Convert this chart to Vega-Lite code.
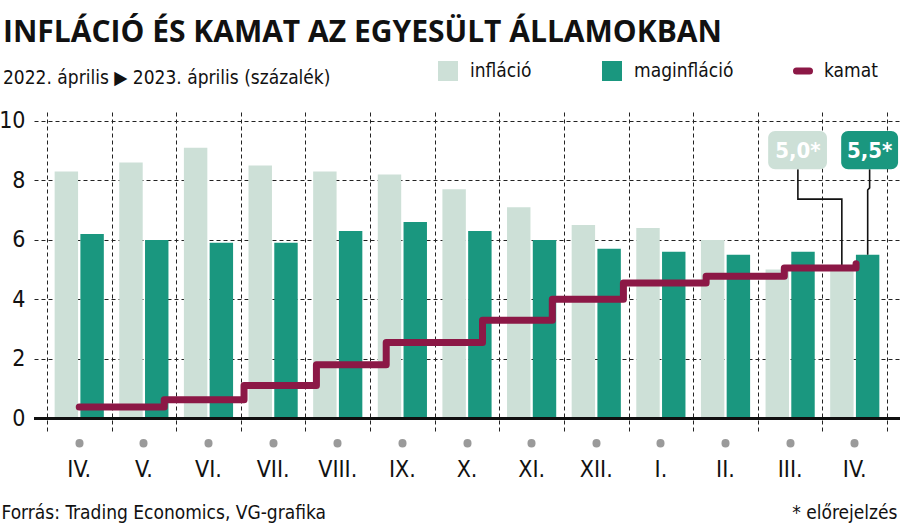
{
  "$schema": "https://vega.github.io/schema/vega-lite/v6.json",
  "width": 866,
  "height": 321,
  "autosize": {"type": "none"},
  "padding": {"left": 34, "top": 110, "right": 0, "bottom": 101},
  "background": "white",
  "config": {
    "view": {"stroke": null},
    "font": "Liberation Sans Narrow, DejaVu Sans Condensed, Roboto",
    "axis": {"labelFont": "Liberation Sans Narrow, DejaVu Sans Condensed, Roboto", "titleFont": "Liberation Sans Narrow, DejaVu Sans Condensed, Roboto"},
    "axisY": {
      "domain": false, "ticks": false, "labelPadding": 9,
      "labelFontSize": 23, "labelColor": "#111",
      "grid": true, "gridDash": [4, 3], "gridColor": "#222", "gridWidth": 1
    },
    "legend": {"labelFont": "Liberation Sans Narrow, DejaVu Sans Condensed, Roboto", "labelFontSize": 19, "labelColor": "#111"}
  },
  "title": {
    "text": "INFLÁCIÓ ÉS KAMAT AZ EGYESÜLT ÁLLAMOKBAN",
    "subtitle": "2022. április ▶ 2023. április (százalék)",
    "anchor": "start",
    "frame": "group",
    "dx": -31,
    "offset": -27,
    "font": "Open Sans",
    "fontWeight": "bold",
    "fontSize": 30,
    "color": "#111",
    "subtitleFont": "Liberation Sans Narrow, DejaVu Sans Condensed, Roboto",
    "subtitleFontSize": 19,
    "subtitleColor": "#111",
    "subtitlePadding": 21
  },
  "datasets": {
    "arak": [
      {"hónap": "2022. IV.", "sorozat": "infláció", "érték": 8.3},
      {"hónap": "2022. IV.", "sorozat": "maginfláció", "érték": 6.2},
      {"hónap": "2022. V.", "sorozat": "infláció", "érték": 8.6},
      {"hónap": "2022. V.", "sorozat": "maginfláció", "érték": 6.0},
      {"hónap": "2022. VI.", "sorozat": "infláció", "érték": 9.1},
      {"hónap": "2022. VI.", "sorozat": "maginfláció", "érték": 5.9},
      {"hónap": "2022. VII.", "sorozat": "infláció", "érték": 8.5},
      {"hónap": "2022. VII.", "sorozat": "maginfláció", "érték": 5.9},
      {"hónap": "2022. VIII.", "sorozat": "infláció", "érték": 8.3},
      {"hónap": "2022. VIII.", "sorozat": "maginfláció", "érték": 6.3},
      {"hónap": "2022. IX.", "sorozat": "infláció", "érték": 8.2},
      {"hónap": "2022. IX.", "sorozat": "maginfláció", "érték": 6.6},
      {"hónap": "2022. X.", "sorozat": "infláció", "érték": 7.7},
      {"hónap": "2022. X.", "sorozat": "maginfláció", "érték": 6.3},
      {"hónap": "2022. XI.", "sorozat": "infláció", "érték": 7.1},
      {"hónap": "2022. XI.", "sorozat": "maginfláció", "érték": 6.0},
      {"hónap": "2022. XII.", "sorozat": "infláció", "érték": 6.5},
      {"hónap": "2022. XII.", "sorozat": "maginfláció", "érték": 5.7},
      {"hónap": "2023. I.", "sorozat": "infláció", "érték": 6.4},
      {"hónap": "2023. I.", "sorozat": "maginfláció", "érték": 5.6},
      {"hónap": "2023. II.", "sorozat": "infláció", "érték": 6.0},
      {"hónap": "2023. II.", "sorozat": "maginfláció", "érték": 5.5},
      {"hónap": "2023. III.", "sorozat": "infláció", "érték": 5.0},
      {"hónap": "2023. III.", "sorozat": "maginfláció", "érték": 5.6},
      {"hónap": "2023. IV.", "sorozat": "infláció", "érték": 5.0},
      {"hónap": "2023. IV.", "sorozat": "maginfláció", "érték": 5.5}
    ],
    "kamat": [
      {"t": 0.5, "kamat": 0.38},
      {"t": 1.815, "kamat": 0.62},
      {"t": 3.05, "kamat": 1.1},
      {"t": 4.17, "kamat": 1.8},
      {"t": 5.25, "kamat": 2.55},
      {"t": 6.74, "kamat": 3.3},
      {"t": 7.82, "kamat": 4.0},
      {"t": 8.92, "kamat": 4.55},
      {"t": 10.2, "kamat": 4.78},
      {"t": 11.41, "kamat": 5.05},
      {"t": 12.52, "kamat": 5.2}
    ],
    "cimkek": [
      {"sorozat": "infláció", "szöveg": "5,0*", "t": 11.16, "t2": 12.07, "tk": 11.62, "felső": 9.66, "alsó": 8.38, "yk": 9.02},
      {"sorozat": "maginfláció", "szöveg": "5,5*", "t": 12.29, "t2": 13.17, "tk": 12.73, "felső": 9.66, "alsó": 8.38, "yk": 9.02}
    ],
    "vonalak": [
      {"id": "a", "sor": 1, "t": 11.62, "v": 8.38},
      {"id": "a", "sor": 2, "t": 11.62, "v": 7.37},
      {"id": "a", "sor": 3, "t": 12.3, "v": 7.37},
      {"id": "a", "sor": 4, "t": 12.3, "v": 5.05},
      {"id": "b", "sor": 1, "t": 12.73, "v": 8.38},
      {"id": "b", "sor": 2, "t": 12.73, "v": 7.75},
      {"id": "b", "sor": 3, "t": 12.7, "v": 7.68},
      {"id": "b", "sor": 4, "t": 12.7, "v": 5.5}
    ]
  },
  "layer": [
    {
      "layer": [
        {
          "data": {"name": "arak"},
          "mark": {"type": "bar"},
          "encoding": {
            "x": {
              "field": "hónap", "type": "ordinal", "sort": null,
              "scale": {"paddingInner": 0, "paddingOuter": 0.2},
              "axis": {
                "labelExpr": "split(datum.label, ' ')[1]",
                "labelFontSize": 23, "labelColor": "#111", "labelPadding": 15, "labelAngle": 0,
                "domain": false, "grid": false,
                "ticks": true, "tickColor": "#9a9a9a", "tickWidth": 8, "tickCap": "round", "tickSize": 0.5,
                "offset": 11.5,
                "title": "Forrás: Trading Economics, VG-grafika",
                "titleX": -33, "titleY": 76, "titleAlign": "left", "titleBaseline": "alphabetic",
                "titleFontSize": 19, "titleFontWeight": "normal", "titleColor": "#111"
              }
            },
            "xOffset": {"field": "sorozat", "type": "nominal", "sort": null, "scale": {"paddingInner": 0.09, "paddingOuter": 0.3}},
            "y": {
              "field": "érték", "type": "quantitative",
              "scale": {"domain": [-0.43, 10.37], "nice": false, "zero": false},
              "axis": {"values": [0, 2, 4, 6, 8, 10], "title": null}
            },
            "fill": {
              "field": "sorozat", "type": "nominal", "sort": null,
              "scale": {"domain": ["infláció", "maginfláció"], "range": ["#cde0d7", "#1a977f"]},
              "legend": {
                "orient": "none", "legendX": 404, "legendY": -49, "direction": "horizontal",
                "title": null, "padding": 0, "symbolType": "square", "symbolSize": 400,
                "symbolStrokeWidth": 0, "labelOffset": 12, "columnPadding": 70
              }
            }
          }
        },
        {
          "data": {"name": "arak"},
          "mark": {"type": "rule", "color": "#111", "strokeWidth": 2},
          "encoding": {"y": {"datum": 0, "type": "quantitative", "axis": {"values": [0, 2, 4, 6, 8, 10], "title": null}}}
        }
      ]
    },
    {
      "encoding": {
        "x": {
          "field": "t", "type": "quantitative",
          "scale": {"domain": [-0.2, 13.2], "nice": false, "zero": false},
          "axis": {
            "orient": "top", "values": [0, 1, 2, 3, 4, 5, 6, 7, 8, 9, 10, 11, 12, 13],
            "labels": false, "ticks": false, "domain": false,
            "grid": true, "gridDash": [4, 3], "gridColor": "#222", "gridWidth": 1,
            "title": "* előrejelzés",
            "titleX": 863, "titleY": 408, "titleAlign": "right", "titleBaseline": "alphabetic",
            "titleFontSize": 19, "titleFontWeight": "normal", "titleColor": "#111", "titleAngle": 0
          }
        }
      },
      "layer": [
        {
          "data": {"name": "vonalak"},
          "mark": {"type": "line", "color": "#111", "strokeWidth": 1.6},
          "encoding": {
            "y": {"field": "v", "type": "quantitative", "axis": {"values": [0, 2, 4, 6, 8, 10], "title": null}},
            "detail": {"field": "id"},
            "order": {"field": "sor"}
          }
        },
        {
          "data": {"name": "kamat"},
          "mark": {"type": "line", "interpolate": "step-after", "strokeWidth": 7, "strokeCap": "round", "strokeJoin": "round"},
          "encoding": {
            "y": {"field": "kamat", "type": "quantitative", "axis": {"values": [0, 2, 4, 6, 8, 10], "title": null}},
            "stroke": {
              "datum": "kamat",
              "scale": {"domain": ["kamat"], "range": ["#8c1846"]},
              "legend": {
                "orient": "none", "legendX": 759, "legendY": -49,
                "title": null, "padding": 0, "symbolType": "stroke", "symbolSize": 169,
                "symbolStrokeWidth": 7, "labelOffset": 11,
                "symbolStrokeColor": "#8c1846",
                "encode": {"symbols": {"update": {"strokeCap": {"value": "round"}}}}
              }
            }
          }
        },
        {
          "data": {"name": "cimkek"},
          "mark": {"type": "rect", "cornerRadius": 7},
          "encoding": {
            "x2": {"field": "t2"},
            "y": {"field": "felső", "type": "quantitative", "axis": {"values": [0, 2, 4, 6, 8, 10], "title": null}},
            "y2": {"field": "alsó"},
            "fill": {"field": "sorozat", "type": "nominal", "sort": null}
          }
        },
        {
          "data": {"name": "cimkek"},
          "mark": {"type": "text", "color": "white", "fontWeight": "bold", "fontSize": 22, "font": "Liberation Sans Narrow, DejaVu Sans Condensed, Roboto", "baseline": "middle", "align": "center", "dy": 1},
          "encoding": {
            "x": {"field": "tk", "type": "quantitative"},
            "y": {"field": "yk", "type": "quantitative", "axis": {"values": [0, 2, 4, 6, 8, 10], "title": null}},
            "text": {"field": "szöveg"}
          }
        }
      ]
    }
  ],
  "resolve": {"scale": {"x": "independent"}}
}
